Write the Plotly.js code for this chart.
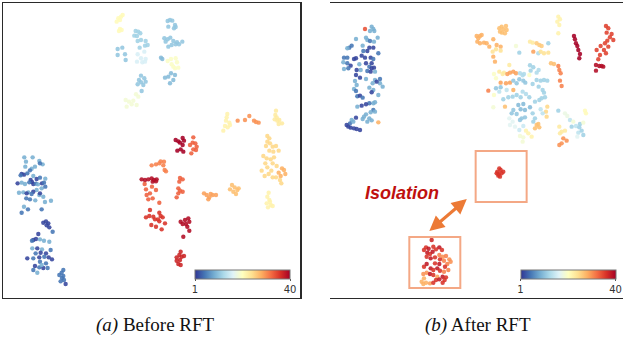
<!DOCTYPE html>
<html><head><meta charset="utf-8">
<script src="https://cdn.plot.ly/plotly-3.0.1.min.js"></script>
<style>html,body{margin:0;padding:0;background:#fff}#plot{width:627px;height:340px}</style>
</head><body><div id="plot"></div>
<script>
// Panel (a) Before RFT: embedding coordinates [x, y, class 1..40]
const beforeRFT = [
// blue group upper-left
[73,472,9],[98,472,9],[78,485,9],[118,483,9],[128,493,9],[120,490,5],[105,500,9],[95,506,9],[90,511,5],[76,500,9],
[65,522,2],[72,524,2],[82,520,5],[100,528,9],[110,537,2],[120,533,5],[136,536,9],[92,540,2],[96,546,2],[53,550,2],
[65,548,9],[75,552,9],[88,547,5],[100,552,2],[108,551,5],[114,553,9],[126,550,2],[132,548,5],[125,565,9],[136,560,5],
[110,570,9],[100,575,2],[85,577,9],[70,577,9],[57,578,9],[95,582,5],[118,585,9],[130,590,9],[79,595,5],[90,598,5],
[106,601,9],[135,606,9],[153,602,9],[72,620,9],[84,628,5],[125,628,5],[65,638,5],[62,526,5],[120,580,2],[80,580,2],
// blue group lower-left
[130,668,2],[138,664,2],[145,670,2],[140,676,2],[148,682,2],[158,695,5],[115,702,2],[100,720,2],[108,717,2],[96,722,5],
[120,718,9],[132,722,9],[148,725,9],[97,745,9],[112,745,2],[126,748,9],[152,750,5],[107,760,5],[122,758,2],[138,760,2],
[133,770,5],[146,772,2],[118,772,2],[100,775,5],[82,775,2],[156,778,2],[120,785,5],[138,790,5],[105,798,2],[118,802,5],
[130,804,2],[143,804,5],[100,810,5],[112,818,9],[125,795,9],
[190,810,5],[185,818,5],[178,825,5],[190,828,5],[186,834,5],[192,840,5],[197,852,2],[182,844,5],
// top groups
[355,55,21],[363,50,21],[368,45,21],[360,60,21],[350,65,21],[360,87,21],[365,90,21],[357,93,21],
[407,93,12],[415,95,12],[421,100,12],[403,107,12],[411,108,12],[413,123,12],[423,120,12],[437,123,12],[419,143,12],[435,137,12],[443,135,12],
[433,155,16],[413,163,16],[423,175,16],[437,177,16],[411,185,16],[427,187,16],[435,185,16],
[353,147,11],[367,143,11],[353,165,11],[375,163,11],[377,180,11],
[423,227,11],[433,235,11],[437,245,11],[423,247,11],[413,253,11],[430,255,11],[425,273,11],[417,240,11],
[377,300,19],[387,305,19],[400,302,19],[410,315,19],[395,313,19],[380,320,19],[408,283,19],[415,290,19],
[503,63,11],[510,60,11],[517,62,11],[525,75,11],[522,85,11],[527,81,11],[505,80,11],[493,115,11],[503,118,11],[511,113,11],
[520,123,11],[531,127,11],[547,125,11],[505,140,11],[515,135,11],[527,133,11],[537,133,11],[497,125,11],
[483,173,10],[487,177,10],
[503,183,20],[513,177,20],[527,175,20],[531,187,20],[515,193,20],[525,205,20],[535,203,20],[520,200,20],
[495,233,10],[505,230,10],[513,220,10],[520,240,10],[510,250,10],[525,225,10],
// right groups
[682,342,22],[680,352,22],[678,362,22],[688,368,22],[690,375,22],[675,378,22],[683,382,22],[670,392,22],
[713,362,30],[735,360,30],[748,348,30],[762,362,30],[776,368,30],[768,366,30],
[826,345,23],[830,352,23],[824,358,23],[838,360,23],[846,370,23],[836,372,23],[832,362,23],[828,332,23],
[802,408,25],[808,415,25],[802,425,25],[810,430,25],[798,438,25],[818,440,25],[828,438,25],[808,452,25],[820,455,25],[836,452,25],
[790,468,25],[800,475,25],[812,478,25],[822,472,25],[818,490,25],[830,498,25],[796,490,25],[802,502,25],[785,512,25],[814,512,25],
[846,505,28],[852,510,28],[836,518,28],[856,522,28],[842,528,28],[828,532,25],[818,532,25],[794,528,25],[806,522,25],[844,550,25],[840,540,25],
[806,578,22],[802,590,22],[808,600,22],[800,610,22],[812,615,22],[818,618,22],[804,622,22],[810,605,22],
// central red/orange groups
[527,420,40],[535,424,40],[548,414,40],[552,422,40],[548,435,40],[542,448,40],[532,452,40],[550,455,40],[540,428,40],
[580,412,33],[578,428,33],[586,430,33],[590,440,33],[580,448,33],[574,460,33],[588,450,33],[570,435,33],
[455,496,31],[468,493,31],[478,490,31],[482,484,31],[492,485,31],[490,496,31],[494,510,31],[498,514,31],
[425,538,39],[435,540,39],[445,538,39],[455,535,39],[462,540,39],[470,538,39],[468,544,39],[458,545,39],
[434,552,33],[438,568,33],[456,560,33],[468,570,33],[450,580,33],[440,585,33],[445,598,33],[458,595,33],[478,608,33],
[540,534,33],[548,538,33],[538,545,33],[535,565,33],[540,572,33],[548,575,33],[535,580,33],[530,592,33],
[612,580,29],[620,585,29],[628,592,29],[638,585,29],[648,585,29],[632,582,29],[625,598,29],
[696,555,27],[704,562,27],[712,570,27],[708,582,27],[700,575,27],[690,568,27],[716,565,27],
[450,630,36],[438,652,36],[448,648,36],[460,650,36],[465,658,36],[478,638,36],[482,648,36],[488,652,36],[474,658,36],
[454,675,36],[468,680,36],[485,688,36],[495,670,36],[478,664,36],
[542,665,39],[555,660,39],[565,655,39],[558,672,39],[568,665,39],[562,680,39],[548,672,39],[568,692,39],[550,710,39],
[542,755,37],[538,765,37],[545,770,37],[530,772,37],[552,768,37],[540,780,37],[535,792,37],[542,795,37],[530,782,37]
];

// Panel (b) After RFT
const afterRFT = [
[135,87,34],[155,80,9],[160,87,9],[150,93,9],[163,93,9],
[108,117,9],[138,113,9],[142,120,9],[150,123,5],[162,125,9],[173,113,9],
[95,137,5],[88,143,5],[82,145,9],[128,137,9],[148,143,2],[160,143,2],[142,153,2],[130,153,5],[175,160,5],
[72,173,5],[82,173,5],[108,175,2],[102,177,2],[125,167,2],[135,173,2],[152,173,2],[160,177,5],
[70,187,9],[82,190,5],[92,197,2],[118,193,9],[138,190,2],[155,190,2],
[148,200,5],[155,205,2],[162,203,2],[142,213,5],[152,215,2],[165,215,9],[122,210,9],[110,210,2],[85,205,5],[72,207,9],
[108,225,2],[120,233,2],[138,237,9],[165,240,9],[180,237,5],[180,250,9],[158,250,9],[148,263,9],[160,270,9],[188,260,9],[170,245,2],
[105,243,9],[110,255,9],[102,267,9],[108,273,5],
[112,289,5],[120,287,2],[128,293,5],[175,285,9],[155,277,2],[160,310,9],[165,307,9],[148,310,5],[138,313,2],[125,317,2],[112,320,9],
[160,330,5],[152,337,9],[138,343,9],[132,350,9],[128,357,9],[142,365,9],[155,361,9],[148,355,9],[165,335,9],
[95,360,9],[90,370,5],[80,375,2],[85,380,2],[92,383,2],[102,385,2],[110,387,2],[120,390,2],[108,353,2],[100,365,9],[175,367,28],
// upper-right groups
[470,108,28],[475,115,28],[480,108,28],[485,105,28],[472,125,28],[480,130,28],[492,128,28],[500,130,28],[508,140,28],
[520,118,28],[530,135,28],[542,140,28],
[538,85,27],[545,80,27],[550,88,27],[558,78,27],[560,90,27],[546,98,27],[555,100,27],[540,95,27],
[715,50,22],[720,58,22],[712,65,22],[718,75,22],[715,100,22],
[762,108,40],[765,118,40],[768,130,40],[772,138,40],[775,150,40],[780,162,40],[778,175,40],
[858,78,35],[865,85,35],[860,98,35],[875,102,35],[870,112,35],[880,120,35],[862,122,35],[855,130,35],[865,140,35],[842,138,35],
[830,150,35],[852,150,35],[858,160,35],[840,165,35],[835,178,35],[828,195,39],[828,212,39],[845,198,39],[850,200,39],[838,198,39],
// mixed central region
[518,155,24],[528,148,24],[542,152,24],[520,170,28],[525,185,28],[588,138,19],[598,158,12],
[630,125,23],[638,128,23],[650,130,26],[658,135,26],[665,138,26],[685,130,12],[640,155,29],[655,160,13],
[662,155,24],[672,160,24],[685,158,24],[693,190,27],[702,192,27],
[715,198,31],[718,210,31],[722,220,31],[720,242,31],[725,258,31],
[568,195,23],[552,218,23],[538,215,23],[548,222,23],
[562,222,29],[570,218,29],[580,215,29],[588,220,29],
[600,220,13],[608,226,13],[612,222,13],[630,196,12],[640,202,12],[632,212,12],[656,210,13],[650,218,13],[628,225,20],
[522,222,20],[528,235,20],[542,248,29],[558,250,29],[570,248,29],
[580,242,11],[598,238,11],[610,242,11],[616,248,11],[590,250,11],
[650,240,12],[662,242,12],[672,240,12],[682,242,12],
[638,252,12],[656,260,12],[668,270,12],[672,278,12],[675,292,12],[665,295,12],
[505,272,31],[528,265,11],[542,262,11],[522,285,20],[538,275,14],[560,270,14],[580,270,28],
[550,298,12],[565,292,12],[578,290,12],[590,285,12],[602,292,12],[608,275,13],[618,282,13],
[628,292,12],[645,305,12],[658,300,12],[520,322,19],[555,320,27],
[595,315,10],[610,312,10],[615,330,10],[630,322,10],[602,328,10],
[580,330,11],[575,340,11],[590,342,11],[605,355,11],[615,352,11],[600,360,11],
[568,355,17],[578,365,17],[682,320,25],[678,335,25],[680,350,25],[662,328,14],[668,340,14],
[638,340,12],[645,355,12],[640,365,12],[570,375,17],[585,380,17],
[598,390,15],[610,378,15],[618,392,22],[625,400,22],[635,410,22],
[600,408,19],[610,412,19],[608,425,19],
[650,375,27],[658,382,27],[655,372,27],[645,385,27],
[715,332,12],[735,340,18],[742,348,18],
[750,360,14],[760,365,19],[768,378,14],[780,372,12],[790,368,19],[795,332,21],[798,340,21],[755,380,12],[778,382,12],
[775,398,14],[785,392,12],[790,405,12],[772,410,17],
[718,380,23],[725,395,23],[735,392,23],[720,400,23],
[730,415,30],[740,422,30],[725,430,30],[718,435,30],
// isolated groups
[538,505,36],[542,510,36],[532,515,36],[536,522,36],[545,520,36],[530,520,36],[550,515,36],[540,530,36],[535,527,36],
[335,720,37],[318,742,36],[326,746,38],[340,740,36],[312,750,36],[322,758,38],[330,762,36],[338,755,38],[348,748,36],[358,742,38],[366,750,36],
[320,770,36],[332,775,38],[345,772,36],[358,765,31],[368,770,30],[378,768,31],[360,778,36],[372,782,31],[388,778,30],[392,785,30],
[382,792,31],[375,800,36],[358,792,38],[345,790,36],[312,800,36],[320,792,38],
[332,805,38],[340,810,36],[352,805,38],[360,812,36],[372,815,31],[385,810,31],
[310,822,30],[320,818,30],[330,822,38],[340,825,36],[352,830,29],[368,830,38],[378,832,36],[348,840,36],[358,838,38],[374,840,36],
[312,835,28],[305,845,28],[318,848,28],[330,850,29],[310,852,28],[340,848,36],[368,848,36]
];

const classMin = 1, classMax = 40;
const cbTickVals = [1, 40];
const cbTickText = ['1', '40'];
const captions = ['<i>(a)</i> Before RFT', '<i>(b)</i> After RFT'];
const isolationLabel = '<b><i>Isolation</i></b>';

const RdYlBu_r = [
  [0.0,'#313695'],[0.1,'#4575b4'],[0.2,'#74add1'],[0.3,'#abd9e9'],[0.4,'#e0f3f8'],
  [0.5,'#ffffbf'],[0.6,'#fee090'],[0.7,'#fdae61'],[0.8,'#f46d43'],[0.9,'#d73027'],[1.0,'#a50026']
];

const W = 627, H = 340;
function cb(xc){
  return {orientation:'h', x:xc/W, xanchor:'center', y:1-269.5/H, yanchor:'top',
    lenmode:'pixels', len:95, thicknessmode:'pixels', thickness:9, xpad:0, ypad:0,
    outlinewidth:1, outlinecolor:'#777', tickvals:cbTickVals, ticktext:cbTickText,
    ticks:'outside', ticklen:2, tickcolor:'#555', tickfont:{family:'DejaVu Sans', size:10, color:'#333'}};
}
function tr(pts, xa, ya, xc){
  return {type:'scatter', mode:'markers', xaxis:xa, yaxis:ya,
    x:pts.map(p=>p[0]), y:pts.map(p=>p[1]),
    marker:{color:pts.map(p=>p[2]), cmin:classMin, cmax:classMax, colorscale:RdYlBu_r,
      size:4.4, opacity:0.88, line:{width:0}, showscale:true, colorbar:cb(xc)},
    hoverinfo:'skip', showlegend:false};
}
const axBase = {showgrid:false, zeroline:false, showticklabels:false, ticks:'',
  showline:true, mirror:true, linecolor:'#2a2a2a', linewidth:1.6};

const data = [tr(beforeRFT,'x','y',242.5), tr(afterRFT,'x2','y2',568)];
const layout = {
  width:W, height:H, margin:{l:0,r:0,t:0,b:0}, paper_bgcolor:'#fff', plot_bgcolor:'#fff',
  xaxis:Object.assign({}, axBase, {domain:[3.3/W, 300/W], range:[10,900]}),
  yaxis:Object.assign({}, axBase, {domain:[1-297.7/H, 1-3.3/H], range:[893,10]}),
  xaxis2:Object.assign({}, axBase, {domain:[330/W, 623.3/W], range:[30,910]}),
  yaxis2:Object.assign({}, axBase, {domain:[1-296.7/H, 1-3.3/H], range:[890,10]}),
  shapes:[
    {type:'rect', xref:'x2', yref:'y2', x0:467, x1:620, y0:453, y1:606, line:{color:'#f4a885', width:2}},
    {type:'rect', xref:'x2', yref:'y2', x0:268, x1:421, y0:711, y1:864, line:{color:'#f4a885', width:2}}
  ],
  annotations:[
    {xref:'x2', yref:'y2', axref:'x2', ayref:'y2', x:328, y:693, ax:445, ay:593, text:'',
     showarrow:true, arrowside:'end+start', arrowhead:2, startarrowhead:2, arrowsize:1, startarrowsize:1,
     arrowwidth:3, arrowcolor:'#ec7a36', standoff:0, startstandoff:0},
    {xref:'x2', yref:'y2', x:247, y:578, xanchor:'center', yanchor:'middle', text:isolationLabel, showarrow:false,
     font:{family:'Liberation Sans, Arial', size:18, color:'#c0100e'}},
    {xref:'paper', yref:'paper', x:155.5/W, y:1-325/H, xanchor:'center', yanchor:'middle', text:captions[0], showarrow:false,
     font:{family:'Liberation Serif, Times New Roman', size:19, color:'#111'}},
    {xref:'paper', yref:'paper', x:477.5/W, y:1-325/H, xanchor:'center', yanchor:'middle', text:captions[1], showarrow:false,
     font:{family:'Liberation Serif, Times New Roman', size:19, color:'#111'}}
  ]
};
Plotly.newPlot('plot', data, layout, {displayModeBar:false, staticPlot:true});
</script></body></html>
